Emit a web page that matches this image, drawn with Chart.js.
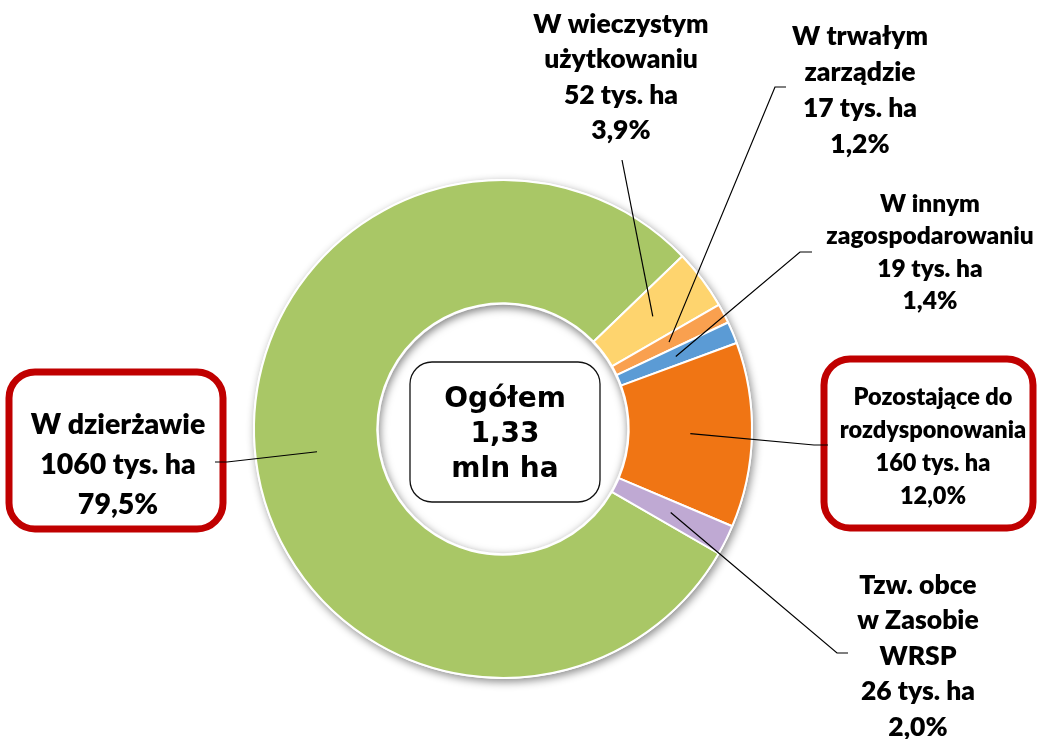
<!DOCTYPE html>
<html>
<head>
<meta charset="utf-8">
<script src="https://cdn.jsdelivr.net/npm/chart.js@4.4.0/dist/chart.umd.min.js"></script>
<style>
  html, body { margin: 0; padding: 0; background: #fff; }
  #wrap { width: 1038px; height: 739px; }
</style>
</head>
<body>
<div id="wrap"><canvas id="chart"></canvas></div>
<script>
// dane
const categories = ['W dzierżawie', 'W wieczystym użytkowaniu', 'W trwałym zarządzie',
  'W innym zagospodarowaniu', 'Pozostające do rozdysponowania', 'Tzw. obce w Zasobie WRSP'];
const nameLines = [['W dzierżawie'], ['W wieczystym', 'użytkowaniu'], ['W trwałym', 'zarządzie'],
  ['W innym', 'zagospodarowaniu'], ['Pozostające do', 'rozdysponowania'], ['Tzw. obce', 'w Zasobie', 'WRSP']];
const areaTysHa = [1060, 52, 17, 19, 160, 26];
const sharePct = ['79,5%', '3,9%', '1,2%', '1,4%', '12,0%', '2,0%'];
const totalLines = ['Ogółem', '1,33', 'mln ha'];

const colors = ['#A9C766', '#FED46E', '#F9A04F', '#5B9BD5', '#F07514', '#BFA9D3'];

// where each label sits (first line middle), leader end points
const labelLayout = [
  { x: 118, y: 425, lh: 40, size: 29, box: [9, 372, 214, 157], leader: [[215, 462], [227, 462]] },
  { x: 621, y: 24, lh: 35.5, size: 27, leader: [[622, 160]] },
  { x: 860, y: 36, lh: 36, size: 27, leader: [[786, 87], [775, 87]] },
  { x: 930, y: 204, lh: 32.3, size: 25, leader: [[812, 252], [800, 252]] },
  { x: 933, y: 397, lh: 33.3, size: 24, box: [824, 359, 209, 169], leader: [[828, 445], [814, 445]] },
  { x: 918, y: 585, lh: 35.5, size: 27, leader: [[848, 653], [837, 653]] }
];

function roundRect(ctx, x, y, w, h, r) {
  ctx.beginPath();
  ctx.moveTo(x + r, y);
  ctx.arcTo(x + w, y, x + w, y + h, r);
  ctx.arcTo(x + w, y + h, x, y + h, r);
  ctx.arcTo(x, y + h, x, y, r);
  ctx.arcTo(x, y, x + w, y, r);
  ctx.closePath();
}

const decorPlugin = {
  id: 'decor',
  beforeDatasetsDraw(chart) {
    const arc = chart.getDatasetMeta(0).data[0];
    const ctx = chart.ctx;
    ctx.save();
    ctx.shadowColor = 'rgba(0,0,0,0.45)';
    ctx.shadowBlur = 8;
    ctx.shadowOffsetX = 2;
    ctx.shadowOffsetY = 3;
    ctx.fillStyle = '#fff';
    ctx.beginPath();
    ctx.arc(arc.x, arc.y, arc.outerRadius + 1, 0, Math.PI * 2);
    ctx.fill();
    ctx.restore();
  },
  afterDatasetsDraw(chart) {
    const meta = chart.getDatasetMeta(0);
    const arc0 = meta.data[0];
    const ctx = chart.ctx;
    const cx = arc0.x, cy = arc0.y, rIn = arc0.innerRadius;

    // inner shadow inside the hole
    ctx.save();
    ctx.beginPath();
    ctx.arc(cx, cy, rIn - 1.5, 0, Math.PI * 2);
    ctx.clip();
    ctx.shadowColor = 'rgba(0,0,0,0.5)';
    ctx.shadowBlur = 8;
    ctx.shadowOffsetX = 1;
    ctx.shadowOffsetY = 3;
    ctx.strokeStyle = '#fff';
    ctx.lineWidth = 40;
    ctx.beginPath();
    ctx.arc(cx, cy, rIn - 1.5 + 20, 0, Math.PI * 2);
    ctx.stroke();
    ctx.restore();

    // center box
    ctx.save();
    roundRect(ctx, cx - 93, cy - 67, 190, 140, 22);
    ctx.fillStyle = '#fff';
    ctx.fill();
    ctx.strokeStyle = '#111';
    ctx.lineWidth = 1.3;
    ctx.stroke();
    ctx.fillStyle = '#000';
    ctx.font = 'bold 28px "DejaVu Sans"';
    ctx.textAlign = 'center';
    ctx.textBaseline = 'middle';
    totalLines.forEach((t, i) => ctx.fillText(t, cx + 2, cy - 29 + i * 35));
    ctx.restore();

    // label boxes
    ctx.save();
    labelLayout.forEach(l => {
      if (!l.box) return;
      roundRect(ctx, l.box[0], l.box[1], l.box[2], l.box[3], 26);
      ctx.strokeStyle = '#C00000';
      ctx.lineWidth = 7;
      ctx.stroke();
    });
    ctx.restore();

    // leader lines from each arc's center point
    ctx.save();
    ctx.strokeStyle = '#000';
    ctx.lineWidth = 1.2;
    meta.data.forEach((arc, i) => {
      const p = arc.getCenterPoint();
      const pts = labelLayout[i].leader;
      ctx.beginPath();
      ctx.moveTo(pts[0][0], pts[0][1]);
      for (let k = 1; k < pts.length; k++) ctx.lineTo(pts[k][0], pts[k][1]);
      ctx.lineTo(p.x, p.y);
      ctx.stroke();
    });
    ctx.restore();

    // label texts
    ctx.save();
    ctx.fillStyle = '#000';
    ctx.textAlign = 'center';
    ctx.textBaseline = 'middle';
    categories.forEach((c, i) => {
      const l = labelLayout[i];
      const lines = nameLines[i].concat([areaTysHa[i] + ' tys. ha', sharePct[i]]);
      ctx.font = '800 ' + (l.size - 0.5) + 'px Lato';
      lines.forEach((t, k) => ctx.fillText(t, l.x, l.y + k * l.lh));
    });
    ctx.restore();
  }
};

const ctx = document.getElementById('chart').getContext('2d');
new Chart(ctx, {
  type: 'doughnut',
  data: {
    labels: categories,
    datasets: [{
      data: areaTysHa,
      backgroundColor: colors,
      borderColor: '#fff',
      borderWidth: 2
    }]
  },
  options: {
    responsive: true,
    maintainAspectRatio: false,
    animation: false,
    rotation: 120,
    cutout: '50.5%',
    layout: { padding: { left: 253, right: 285, top: 179, bottom: 60 } },
    plugins: {
      legend: { display: false },
      tooltip: { enabled: false }
    }
  },
  plugins: [decorPlugin]
});
</script>
</body>
</html>
